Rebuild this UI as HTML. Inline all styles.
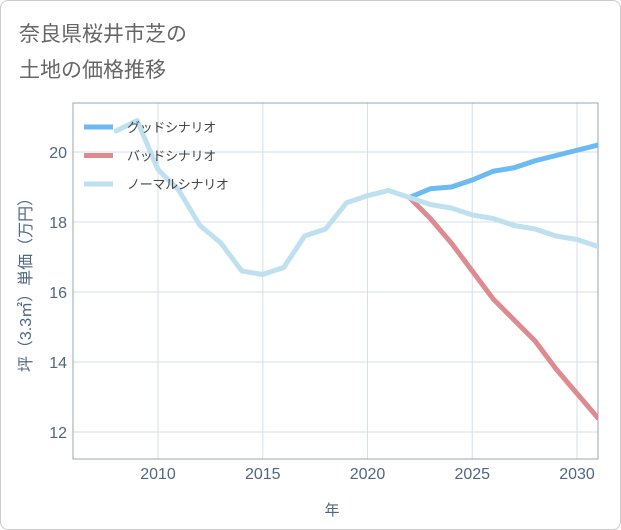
<!DOCTYPE html>
<html><head><meta charset="utf-8"><style>
body{margin:0;background:#fff;font-family:"Liberation Sans","Noto Sans CJK JP",sans-serif}
#wrap{position:relative;width:619px;height:528px;border:1px solid #ccc;border-radius:8px;overflow:hidden}
</style></head><body>
<div id="wrap">
<svg id="c" width="621" height="530">
<text x="18" y="40" font-size="21" fill="#666">奈良県桜井市芝の</text>
<text x="18" y="76" font-size="21" fill="#666">土地の価格推移</text>
<g id="grid"></g><g id="lines"></g><g id="legend"></g>
<text x="331" y="514" font-size="15" fill="#506784" text-anchor="middle">年</text>
<text transform="translate(30,280) rotate(-90)" font-size="16" fill="#506784" text-anchor="middle">坪（3.3㎡）単価（万円）</text>
</svg></div>
<script>
const xTicks=[2010,2015,2020,2025,2030];
const yTicks=[12,14,16,18,20];
const normalYears=[2008,2009,2010,2011,2012,2013,2014,2015,2016,2017,2018,2019,2020,2021,2022,2023,2024,2025,2026,2027,2028,2029,2030,2031];
const normalVals=[20.6,20.9,19.5,18.9,17.9,17.4,16.6,16.5,16.7,17.6,17.8,18.55,18.75,18.9,18.7,18.5,18.4,18.2,18.1,17.9,17.8,17.6,17.5,17.3];
const goodYears=[2022,2023,2024,2025,2026,2027,2028,2029,2030,2031];
const goodVals=[18.7,18.95,19.0,19.2,19.45,19.55,19.75,19.9,20.05,20.2];
const badYears=[2022,2023,2024,2025,2026,2027,2028,2029,2030,2031];
const badVals=[18.7,18.1,17.4,16.6,15.8,15.2,14.6,13.8,13.1,12.4];
const L=72,R=597,T=102,B=458;
const X=y=>157+(y-2010)*20.95;
const Y=v=>151+(20-v)*35;
const NS="http://www.w3.org/2000/svg";
function mk(t,a,p){const e=document.createElementNS(NS,t);for(const k in a)e.setAttribute(k,a[k]);p.appendChild(e);return e;}
const g=document.getElementById('grid');
xTicks.forEach(t=>{const l=mk('line',{x1:X(t),x2:X(t),y1:T,y2:B,stroke:'#d5dfe9','stroke-width':1},g);


const s=mk('text',{x:X(t),y:B+20,'font-size':16,fill:'#506784','text-anchor':'middle'},g);s.textContent=t;

});
yTicks.forEach(t=>{const l=mk('line',{x1:L,x2:R,y1:Y(t),y2:Y(t),stroke:'#d5dfe9','stroke-width':1},g);


const s=mk('text',{x:L-6,y:Y(t)+6,'font-size':16,fill:'#506784','text-anchor':'end'},g);s.textContent=t;

});
const fr=mk('rect',{x:L,y:T,width:R-L,height:B-T,fill:'none',stroke:'#9aa4ae','stroke-width':1},g);


const ln=document.getElementById('lines');
const cp=mk('clipPath',{id:'cp'},ln);
mk('rect',{x:L,y:T,width:R-L,height:B-T},cp);
function series(ys,vs,col,name){const p=mk('polyline',{points:ys.map((y,i)=>X(y)+','+Y(vs[i])).join(' '),fill:'none',stroke:col,'stroke-width':5,'stroke-linejoin':'round','stroke-linecap':'round','clip-path':'url(#cp)'},ln);

}
series(goodYears,goodVals,'#6bbaf2','good-scenario-line');
series(badYears,badVals,'#de8a91','bad-scenario-line');
series(normalYears,normalVals,'#bfe0ef','normal-scenario-line');
const lg=document.getElementById('legend');
[['グッドシナリオ','#6bbaf2','legend-good'],['バッドシナリオ','#de8a91','legend-bad'],['ノーマルシナリオ','#bfe0ef','legend-normal']].forEach((d,i)=>{
const y=126+i*28.5;
const l=mk('line',{x1:83,x2:112,y1:y,y2:y,stroke:d[1],'stroke-width':5},lg);


const s=mk('text',{x:126,y:y+5,'font-size':13,fill:'#444','letter-spacing':'-0.3'},lg);s.textContent=d[0];

});
</script></body></html>
